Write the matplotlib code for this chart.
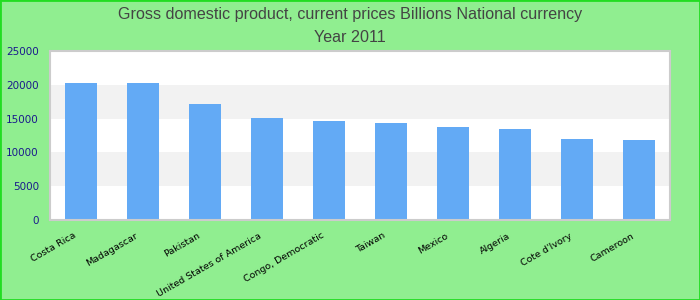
import matplotlib
matplotlib.use("Agg")
import matplotlib.pyplot as plt
import matplotlib.transforms as mtrans
from matplotlib.patches import Rectangle

countries = ["Costa Rica", "Madagascar", "Pakistan", "United States of America",
             "Congo, Democratic", "Taiwan", "Mexico", "Algeria", "Cote d'Ivory", "Cameroon"]
values = [20200, 20200, 17200, 15150, 14700, 14400, 13800, 13500, 12000, 11900]
yticks = [0, 5000, 10000, 15000, 20000, 25000]

fig = plt.figure(figsize=(7, 3), dpi=100, facecolor="#90EE90")
ax = fig.add_axes([50 / 700, 80 / 300, 620 / 700, 169 / 300])
ax.set_facecolor("white")

# bandes alternees
for i in range(len(yticks) - 1):
    if i % 2 == 1:
        ax.axhspan(yticks[i], yticks[i + 1], color="#F2F2F2", zorder=0, lw=0)

x = range(len(countries))
ax.bar(x, values, width=0.52, color="#63AAF5", zorder=2)

ax.set_xlim(-0.5, len(countries) - 0.5)
ax.set_ylim(0, 25000)
ax.set_yticks(yticks)
ax.set_yticklabels([str(v) for v in yticks], color="#1A1A8C", fontsize=7.5)
ax.set_xticks(list(x))
ax.set_xticklabels(countries, rotation=30, ha="right", rotation_mode="anchor",
                   fontsize=6.8, color="black")
ax.tick_params(axis="y", length=0, pad=8)
ax.tick_params(axis="x", length=0, pad=8)
shift = mtrans.ScaledTranslation(-0.08, 0, fig.dpi_scale_trans)
for lbl in ax.get_xticklabels():
    lbl.set_transform(lbl.get_transform() + shift)
for s in ax.spines.values():
    s.set_color("#CCCCCC")
    s.set_linewidth(1.5)

fig.text(0.5, 1 - 14 / 300, "Gross domestic product, current prices Billions National currency",
         ha="center", va="center", fontsize=11.6, color="#444444", family="Liberation Sans")
fig.text(0.5, 1 - 37 / 300, "Year 2011",
         ha="center", va="center", fontsize=11.6, color="#444444", family="Liberation Sans")

fig.patches.append(Rectangle((0, 0), 1, 1, transform=fig.transFigure, fill=False,
                             edgecolor="#22DD22", linewidth=2))

fig.savefig("out.png", dpi=100, facecolor=fig.get_facecolor())
